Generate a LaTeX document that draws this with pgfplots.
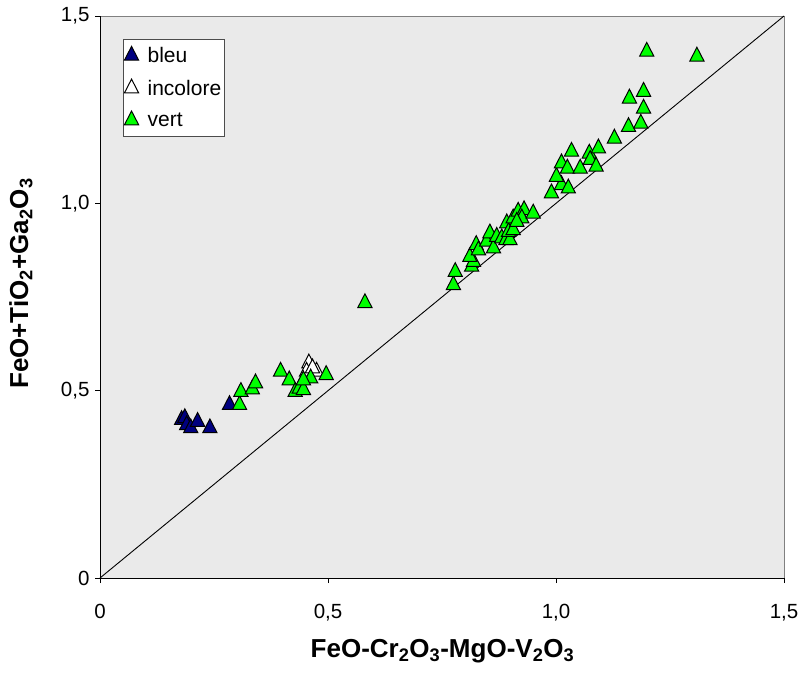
\documentclass[border=0pt]{standalone}
\usepackage{pgfplots}
\pgfplotsset{compat=1.18}
\usepackage{fontspec}
\setmainfont{Liberation Sans}
\definecolor{bgray}{HTML}{EAEAEA}
\definecolor{bleu}{HTML}{000080}
\definecolor{vert}{HTML}{00FF00}
\begin{document}
\begin{tikzpicture}
\begin{axis}[
  name=ax,
  scale only axis,
  width=684pt, height=562pt,
  xmin=0, xmax=1.5, ymin=0, ymax=1.5,
  axis background/.style={fill=bgray, draw=gray},
  axis lines*=left,
  axis line style={-, black, line width=0.9pt},
  tick align=outside,
  major tick length=5pt,
  tick style={black, line width=0.9pt},
  xtick={0,0.5,1,1.5}, xticklabels={0,{0,5},{1,0},{1,5}},
  ytick={0,0.5,1,1.5}, yticklabels={0,{0,5},{1,0},{1,5}},
  ticklabel style={font=\fontsize{20.5}{23}\selectfont},
  xticklabel style={yshift=-18pt},
  yticklabel style={xshift=-2pt},
  xlabel={\bfseries FeO-Cr\textsubscript{2}O\textsubscript{3}-MgO-V\textsubscript{2}O\textsubscript{3}},
  ylabel={\bfseries FeO+TiO\textsubscript{2}+Ga\textsubscript{2}O\textsubscript{3}},
  label style={font=\fontsize{26}{28}\selectfont},
  xlabel style={at={(axis description cs:0.5007,-0.142)}, anchor=base},
  ylabel style={at={(axis description cs:-0.105,0.524)}, anchor=base},
  clip=false,
  legend style={at={(axis description cs:0.034,0.959)}, anchor=north west,
    draw=black!70, fill=white, font=\fontsize{21}{23}\selectfont,
    inner xsep=1pt, inner ysep=6pt, row sep=12pt},
  legend cell align=left,
  mark size=8.2pt,
]
\addplot[black, line width=0.9pt, forget plot] coordinates {(0,0) (1.5,1.5)};
\addplot[only marks, mark=triangle*, mark options={fill=bleu, draw=black, line width=1pt, yscale=1.12}] coordinates {
(0.179,0.422) (0.186,0.427) (0.190,0.408) (0.199,0.400) (0.214,0.417) (0.241,0.400) (0.284,0.462)
};
\addlegendentry{\hspace{7pt}bleu}
\addplot[only marks, mark=triangle*, mark options={fill=white, draw=black, line width=1pt, yscale=1.12}] coordinates {
(0.458,0.573) (0.475,0.551) (0.453,0.551) (0.466,0.560)
};
\addlegendentry{\hspace{7pt}incolore}
\addplot[only marks, mark=triangle*, mark options={fill=vert, draw=black, line width=1pt, yscale=1.12}] coordinates {
(0.306,0.462) (0.309,0.497) (0.334,0.504) (0.341,0.520) (0.396,0.551) (0.415,0.528)
(0.428,0.497) (0.437,0.506) (0.446,0.502) (0.462,0.533) (0.446,0.528) (0.496,0.542)
(0.581,0.734)
(0.775,0.782) (0.779,0.817) (0.815,0.831) (0.819,0.844) (0.811,0.857) (0.825,0.889)
(0.830,0.875) (0.848,0.898) (0.855,0.920) (0.863,0.880) (0.870,0.911) (0.881,0.907)
(0.890,0.902) (0.899,0.902) (0.892,0.947) (0.896,0.924) (0.906,0.929) (0.906,0.960)
(0.917,0.978) (0.930,0.982) (0.925,0.960) (0.950,0.973) (0.914,0.951)
(0.990,1.027) (1.012,1.049) (1.027,1.040) (1.001,1.071) (1.012,1.107) (1.025,1.093)
(1.034,1.138) (1.053,1.093) (1.073,1.133) (1.075,1.116) (1.088,1.098) (1.093,1.147)
(1.128,1.173) (1.159,1.204) (1.186,1.213) (1.192,1.253) (1.161,1.280) (1.192,1.298)
(1.199,1.405) (1.309,1.392)
};
\addlegendentry{\hspace{7pt}vert}
\end{axis}
\pgfresetboundingbox
\path ([shift={(-100pt,-96pt)}]ax.south west) rectangle ([shift={(16pt,16pt)}]ax.north east);
\end{tikzpicture}
\end{document}
